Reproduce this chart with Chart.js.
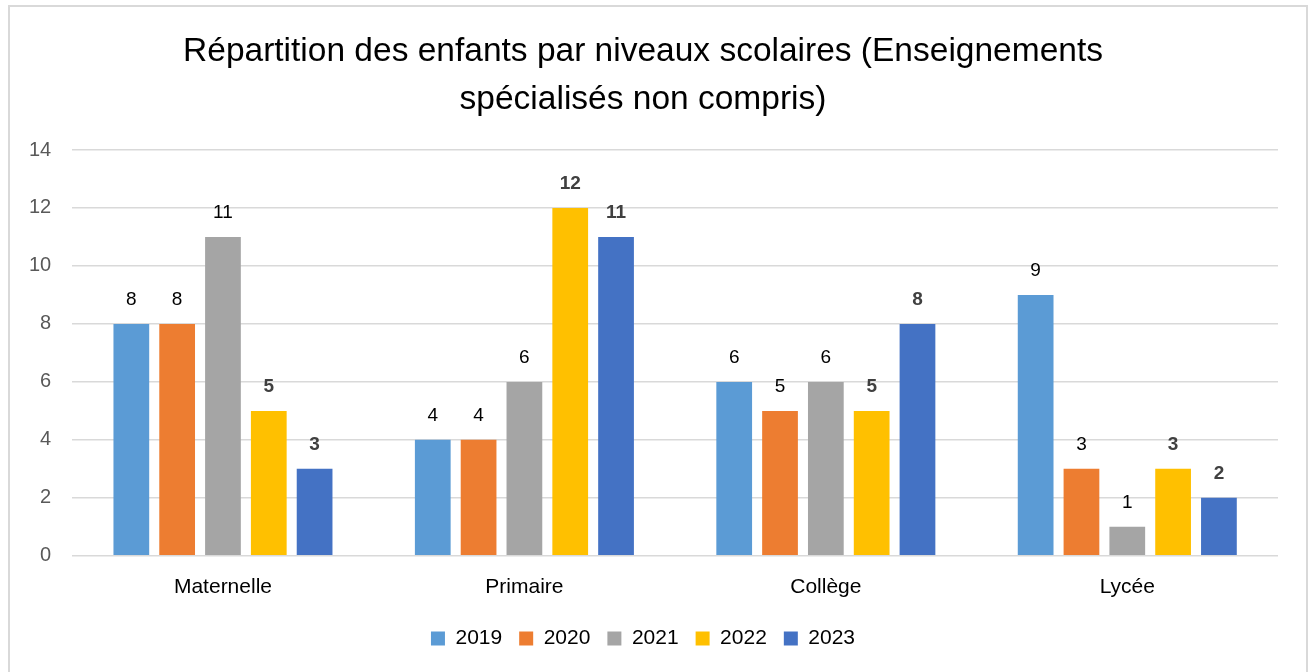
<!DOCTYPE html>
<html>
<head>
<meta charset="utf-8">
<script src="https://cdn.jsdelivr.net/npm/chart.js@4"></script>
<style>
  html, body { margin: 0; padding: 0; background: #fff; overflow: hidden; }
  #wrap { position: absolute; left: 0; top: 0; width: 1311px; height: 672px; }
  #frame { position: absolute; left: 8px; top: 5px; width: 1296px; height: 700px; border: 2px solid #d9d9d9; pointer-events: none; }
</style>
</head>
<body>
<div id="wrap"><canvas id="chart" width="1311" height="672"></canvas></div>
<div id="frame"></div>
<script>
// data
const categories = ['Maternelle', 'Primaire', 'Collège', 'Lycée'];
const years = ['2019', '2020', '2021', '2022', '2023'];
const values2019 = [8, 4, 6, 9];
const values2020 = [8, 4, 5, 3];
const values2021 = [11, 6, 6, 1];
const values2022 = [5, 12, 5, 3];
const values2023 = [3, 11, 8, 2];
const yTicks = [0, 2, 4, 6, 8, 10, 12, 14];

const colors = ['#5B9BD5', '#ED7D31', '#A5A5A5', '#FFC000', '#4472C4'];
const seriesValues = [values2019, values2020, values2021, values2022, values2023];
const boldLabels = [false, false, false, true, true];

const fontFamily = '"Liberation Sans", Arial, sans-serif';

// draws the value above each bar
const valueLabels = {
    id: 'valueLabels',
    afterDatasetsDraw(chart) {
        const ctx = chart.ctx;
        ctx.save();
        ctx.textAlign = 'center';
        ctx.textBaseline = 'bottom';
        chart.data.datasets.forEach((ds, i) => {
            const meta = chart.getDatasetMeta(i);
            ctx.font = (boldLabels[i] ? 'bold ' : '') + '19px ' + fontFamily;
            ctx.fillStyle = boldLabels[i] ? '#404040' : '#000000';
            meta.data.forEach((bar, j) => {
                ctx.fillText(ds.data[j], bar.x, bar.y - 15);
            });
        });
        ctx.restore();
    }
};

const ctx = document.getElementById('chart').getContext('2d');
new Chart(ctx, {
    type: 'bar',
    data: {
        labels: categories,
        datasets: years.map((y, i) => ({
            label: y,
            data: seriesValues[i],
            backgroundColor: colors[i],
            borderWidth: 0
        }))
    },
    options: {
        responsive: false,
        animation: false,
        devicePixelRatio: 1,
        categoryPercentage: 0.76,
        barPercentage: 0.78,
        layout: { padding: { left: 8, right: 33, top: 28, bottom: 13 } },
        plugins: {
            title: {
                display: true,
                text: ['Répartition des enfants par niveaux scolaires (Enseignements', 'spécialisés non compris)'],
                font: { family: fontFamily, size: 33.5, weight: 'normal', lineHeight: 1.433 },
                color: '#000000',
                padding: { top: 0, bottom: 26 }
            },
            legend: {
                position: 'bottom',
                labels: {
                    font: { family: fontFamily, size: 21 },
                    color: '#000000',
                    boxWidth: 14,
                    boxHeight: 14,
                    padding: 17
                }
            },
            tooltip: { enabled: false }
        },
        scales: {
            x: {
                grid: { display: false },
                border: { display: false },
                ticks: { font: { family: fontFamily, size: 21 }, color: '#000000', padding: 11 }
            },
            y: {
                min: 0,
                max: 14,
                afterBuildTicks: (axis) => { axis.ticks = yTicks.map(v => ({ value: v })); },
                grid: { color: '#d9d9d9', lineWidth: 1.5, drawTicks: false },
                border: { display: false },
                ticks: { font: { family: fontFamily, size: 20 }, color: '#595959', padding: 21 }
            }
        }
    },
    plugins: [valueLabels]
});
</script>
</body>
</html>
